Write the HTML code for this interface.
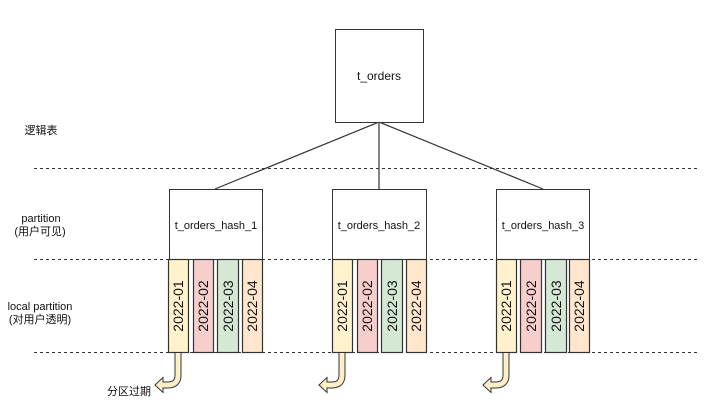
<!DOCTYPE html>
<html><head><meta charset="utf-8"><style>
html,body{margin:0;padding:0;background:#fff;}
svg{display:block;font-family:"Liberation Sans","Noto Sans CJK SC",sans-serif;}
</style></head><body>
<svg width="720" height="413" viewBox="0 0 720 413" xmlns="http://www.w3.org/2000/svg">
<g stroke="#333" stroke-width="1" stroke-dasharray="3,3">
<line x1="34" y1="168.5" x2="698" y2="168.5"/>
<line x1="34" y1="259.5" x2="698" y2="259.5"/>
<line x1="34" y1="352.5" x2="698" y2="352.5"/>
</g>
<g stroke="#333" stroke-width="1.2" fill="none">
<line x1="379" y1="122" x2="215" y2="189"/>
<line x1="379" y1="122" x2="379" y2="189"/>
<line x1="379" y1="122" x2="543" y2="189"/>
</g>
<rect x="335.5" y="29.5" width="88" height="93" fill="#fff" stroke="#333"/>
<text x="379" y="80" font-size="12" text-anchor="middle" fill="#111">t_orders</text>
<rect x="169.5" y="189.5" width="93" height="70" fill="#fff" stroke="#333"/>
<text x="216" y="229" font-size="11" text-anchor="middle" fill="#111">t_orders_hash_1</text>
<rect x="332.5" y="189.5" width="94" height="70" fill="#fff" stroke="#333"/>
<text x="379" y="229" font-size="11" text-anchor="middle" fill="#111">t_orders_hash_2</text>
<rect x="496.5" y="189.5" width="93" height="70" fill="#fff" stroke="#333"/>
<text x="543" y="229" font-size="11" text-anchor="middle" fill="#111">t_orders_hash_3</text>

<g font-size="14" fill="#111" stroke="#333" stroke-width="1.2">
<!-- group1 -->
<rect x="168.5" y="259.5" width="20" height="93" fill="#fff2cc"/>
<rect x="193.5" y="259.5" width="20" height="93" fill="#f8cecc"/>
<rect x="217.5" y="259.5" width="21" height="93" fill="#d5e8d4"/>
<rect x="242.5" y="259.5" width="20" height="93" fill="#ffe6cc"/>
<rect x="332.5" y="259.5" width="20" height="93" fill="#fff2cc"/>
<rect x="357.5" y="259.5" width="20" height="93" fill="#f8cecc"/>
<rect x="381.5" y="259.5" width="21" height="93" fill="#d5e8d4"/>
<rect x="406.5" y="259.5" width="20" height="93" fill="#ffe6cc"/>
<rect x="496.5" y="259.5" width="20" height="93" fill="#fff2cc"/>
<rect x="520.5" y="259.5" width="21" height="93" fill="#f8cecc"/>
<rect x="545.5" y="259.5" width="21" height="93" fill="#d5e8d4"/>
<rect x="569.5" y="259.5" width="20" height="93" fill="#ffe6cc"/>
</g>
<g font-size="14" fill="#111" text-anchor="middle">
<text transform="translate(183,306) rotate(-90)">2022-01</text>
<text transform="translate(208,306) rotate(-90)">2022-02</text>
<text transform="translate(233,306) rotate(-90)">2022-03</text>
<text transform="translate(257,306) rotate(-90)">2022-04</text>
<text transform="translate(347,306) rotate(-90)">2022-01</text>
<text transform="translate(372,306) rotate(-90)">2022-02</text>
<text transform="translate(397,306) rotate(-90)">2022-03</text>
<text transform="translate(421,306) rotate(-90)">2022-04</text>
<text transform="translate(511,306) rotate(-90)">2022-01</text>
<text transform="translate(536,306) rotate(-90)">2022-02</text>
<text transform="translate(561,306) rotate(-90)">2022-03</text>
<text transform="translate(584,306) rotate(-90)">2022-04</text>
</g>

<defs>
<g id="arr">
<path d="M0,0 V22 Q0,32 -10,32 H-16" fill="none" stroke="#333" stroke-width="7"/>
<polygon points="-15,24.5 -15,39.5 -23,32" fill="#fdf0c8" stroke="#333" stroke-width="1"/>
<path d="M0,0 V22 Q0,32 -10,32 H-16" fill="none" stroke="#fdf0c8" stroke-width="5"/>
</g>
</defs>
<use href="#arr" x="178" y="353"/>
<use href="#arr" x="342" y="353"/>
<use href="#arr" x="506" y="353"/>

<g font-size="11" fill="#111" text-anchor="middle">
<text x="41" y="134">逻辑表</text>
<text x="41" y="222">partition</text>
<text x="40" y="235">(用户可见)</text>
<text x="40" y="310">local partition</text>
<text x="40" y="323">(对用户透明)</text>
<text x="129" y="395">分区过期</text>
</g>
</svg>
</body></html>
